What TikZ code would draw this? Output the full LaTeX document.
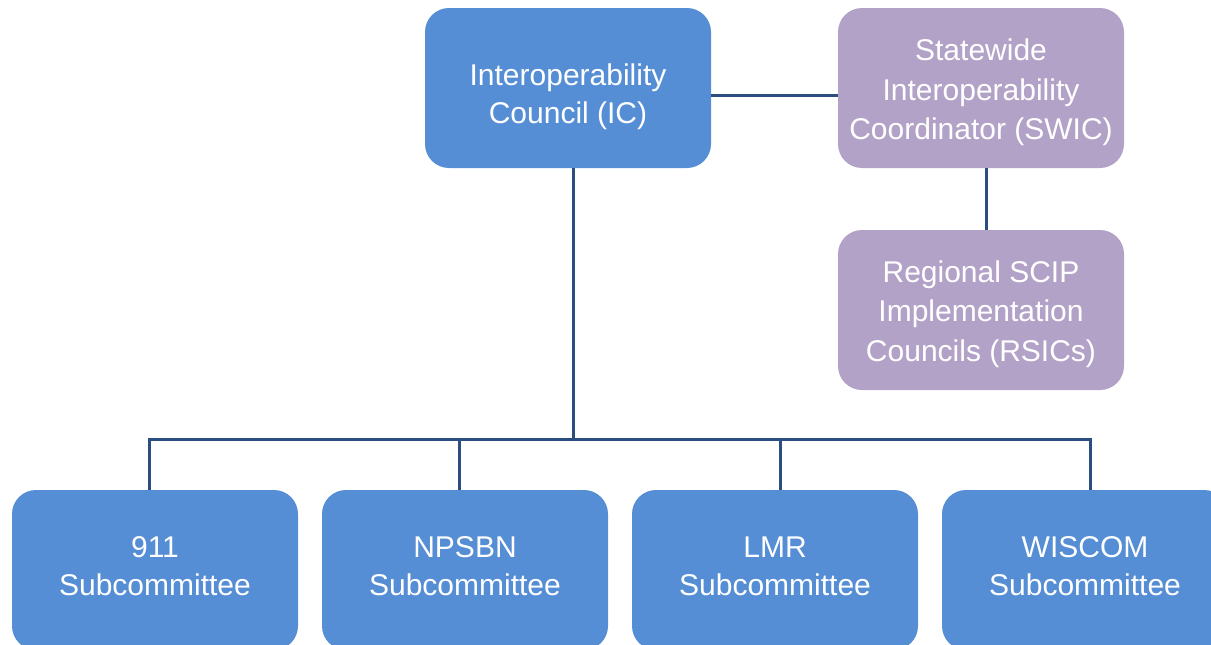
\documentclass[tikz,border=0pt]{standalone}
\usepackage{fontspec}
\setmainfont{Liberation Sans}
\definecolor{boxblue}{HTML}{558ED5}
\definecolor{boxpurple}{HTML}{B3A2C7}
\definecolor{linecol}{HTML}{2B4E80}
\newcommand{\boxlines}[2]{\raisebox{#1}[0pt][0pt]{\begin{tabular}{@{}c@{}}#2\end{tabular}}}
\tikzset{
  base/.style={rounded corners=24pt, minimum width=286pt, minimum height=160pt, text=white, align=center, font=\fontsize{30}{38}\selectfont, inner sep=0pt},
  bluebox/.style={base, fill=boxblue},
  purplebox/.style={base, fill=boxpurple, font=\fontsize{30}{39.5}\selectfont},
  conn/.style={draw=linecol, line width=3pt}
}
\begin{document}
\begin{tikzpicture}[x=1pt,y=-1pt]
\useasboundingbox (0,0) rectangle (1211,645);
\clip (0,0) rectangle (1211,645);
\node[bluebox] (ic) at (568,88) {\boxlines{-15.5pt}{Interoperability\\Council (IC)}};
\node[purplebox] (swic) at (981,88) {\boxlines{-10.5pt}{Statewide\\Interoperability\\Coordinator (SWIC)}};
\node[purplebox] (rsic) at (981,310) {\boxlines{-10pt}{Regional SCIP\\Implementation\\Councils (RSICs)}};
\node[bluebox] (b1) at (155,570) {\boxlines{-5.5pt}{911\\Subcommittee}};
\node[bluebox] (b2) at (465,570) {\boxlines{-5.5pt}{NPSBN\\Subcommittee}};
\node[bluebox] (b3) at (775,570) {\boxlines{-5.5pt}{LMR\\Subcommittee}};
\node[bluebox] (b4) at (1085,570) {\boxlines{-5.5pt}{WISCOM\\Subcommittee}};
\coordinate (bus) at (573,439);
\draw[conn] ([yshift=-7pt]ic.east) -- ([yshift=-7pt]swic.west);
\draw[conn] ([xshift=5pt]swic.south) -- ([xshift=5pt]rsic.north);
\draw[conn] ([xshift=5pt]ic.south) -- (bus);
\draw[conn] ([xshift=-6pt]b1.north) |- (bus) -| ([xshift=5pt]b4.north);
\draw[conn] ([xshift=-6pt]b2.north) -- ([xshift=-6pt]b2.north |- bus);
\draw[conn] ([xshift=5pt]b3.north) -- ([xshift=5pt]b3.north |- bus);
\end{tikzpicture}
\end{document}
